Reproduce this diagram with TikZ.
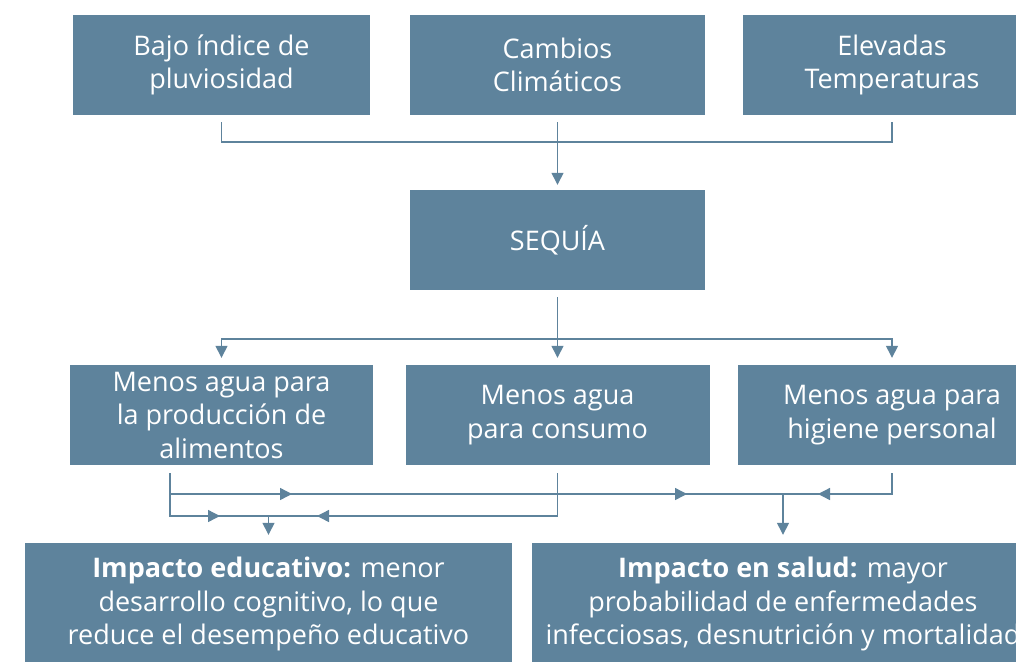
\documentclass[tikz,border=0pt]{standalone}
\usepackage{fontspec}
\setmainfont{Open Sans}
\usetikzlibrary{arrows.meta,decorations.markings}
\definecolor{azulcaja}{HTML}{5E839C}
\tikzset{>={Triangle[width=12pt,length=12pt]}}

\begin{document}
\begin{tikzpicture}[x=1pt,y=-1pt,%
                    caja/.style={fill=azulcaja,text=white,inner sep=0,minimum height=100pt,align=center,font=\fontsize{27}{33.5}\selectfont},
                    linea/.style={draw=azulcaja,line width=1.4pt},
                    unaflecha/.style={postaction={decorate},decoration={markings,mark=at position #1 with {\arrow{>}}}},
                    dosflechas/.style 2 args={postaction={decorate},decoration={markings,mark=at position #1 with {\arrow{>}},mark=at position #2 with {\arrow{>}}}},
        ]
        \useasboundingbox (0,0) rectangle (1016,661);
        \clip (0,0) rectangle (1016,661);
        % causas
        \node[caja,minimum width=297pt] (pluv) at (221.5,65) {Bajo índice de\\pluviosidad};
        \node[caja,minimum width=295pt] (clima) at (557.5,65) {Cambios\\Climáticos};
        \node[caja,minimum width=298pt] (temp) at (892,65) {Elevadas\\Temperaturas};
        \node[caja,minimum width=295pt] (sequia) at (557.5,240) {SEQUÍA};
        % consecuencias
        \node[caja,minimum width=303pt] (prod) at (221.5,415) {Menos agua para\\la producción de\\alimentos};
        \node[caja,minimum width=304pt] (cons) at (557.5,415) {Menos agua\\para consumo};
        \node[caja,minimum width=308pt] (hig) at (892,415) {Menos agua para\\higiene personal};
        % impactos
        \node[caja,minimum width=487pt,minimum height=122pt] (edu) at (268.5,604) {\textbf{Impacto educativo:} menor\\desarrollo cognitivo, lo que\\reduce el desempeño educativo};
        \node[caja,minimum width=502pt,minimum height=122pt] (salud) at (783,604) {\textbf{Impacto en salud:} mayor\\probabilidad de enfermedades\\infecciosas, desnutrición y mortalidad};
%
        \coordinate (jtop) at (557.5,142);
        \coordinate (jmid) at (557.5,339);
        \coordinate (a1) at (170,473);
        \coordinate (b1) at (557.5,473);
        \coordinate (c1) at (892,473);
        \coordinate (jedu) at (268.5,516);
        \coordinate (jsal) at (783,494);
%
        \draw[linea,shorten <=7pt] (pluv.south) |- (jtop);
        \draw[linea,shorten <=7pt] (temp.south) |- (jtop);
        \draw[linea,->,shorten <=7pt,shorten >=5pt] (clima.south) -- (sequia.north);
%
        \draw[linea,->,shorten <=7pt,shorten >=7pt] (sequia.south) -- (cons.north);
        \draw[linea,->,shorten >=7pt] (jmid) -| (prod.north);
        \draw[linea,->,shorten >=7pt] (jmid) -| (hig.north);
%
        \draw[linea,->,shorten >=8pt,unaflecha=93pt] (a1) |- (jedu) -- (edu.north);
        \draw[linea,unaflecha=283.5pt] (b1) |- (jedu);
        \draw[linea,->,shorten >=8pt,dosflechas={143pt}{538pt}] (a1) |- (jsal) -- (salud.north);
        \draw[linea,unaflecha=95pt] (c1) |- (jsal);
    \end{tikzpicture}
\end{document}
